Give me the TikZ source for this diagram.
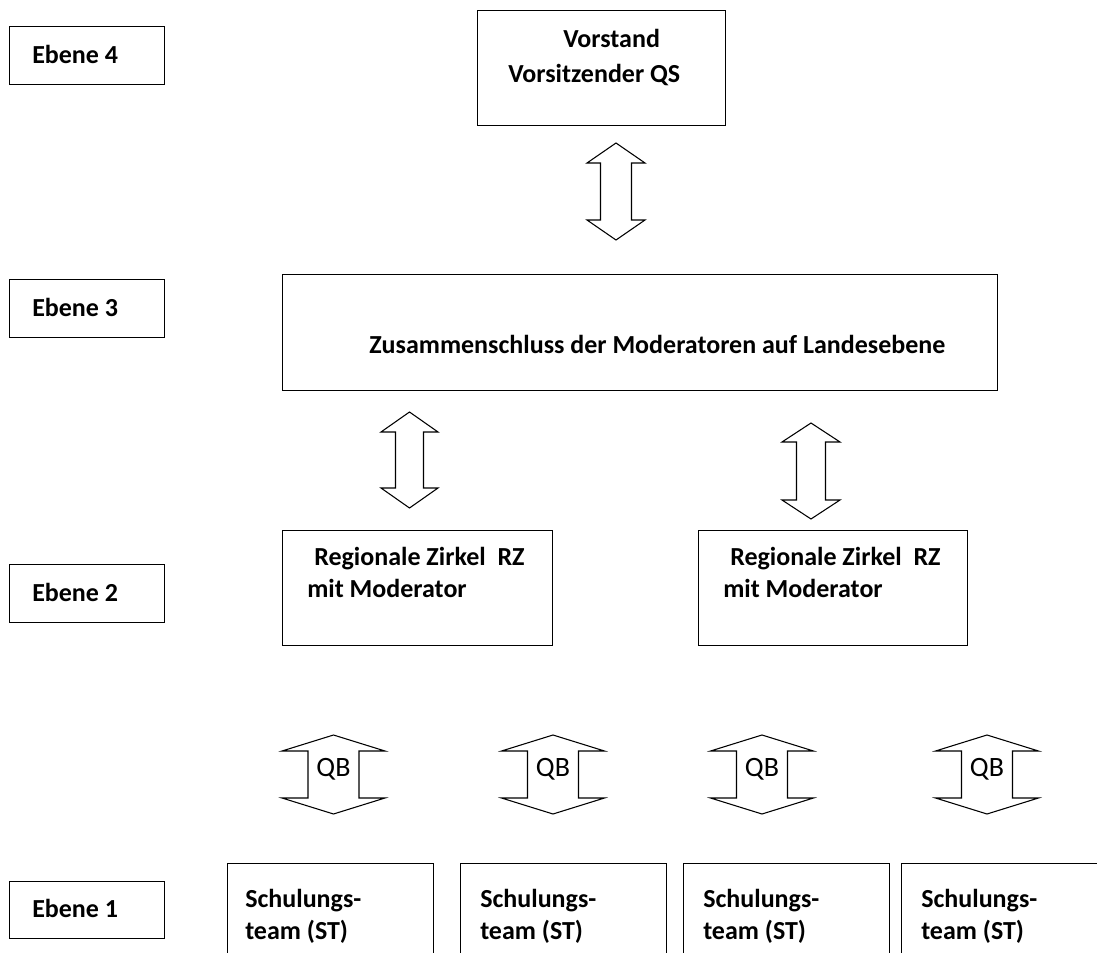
\documentclass[tikz,border=0pt]{standalone}
\usepackage{fontspec}
\setmainfont{Carlito}
\newcommand\bxnode[5]{\node[box, minimum width={(#4-#2)*0.75pt}, minimum height={(#5-#3)*0.75pt}] (#1) at (#2,#3) {};}
% name, cx, top, bottom, head half width, shaft half width, head length
\newcommand\udarrow[7]{%
  \draw[barrow] (#2,#3) -- ({#2+#5},{#3+#7}) -- ({#2+#6},{#3+#7}) -- ({#2+#6},{#4-#7})
    -- ({#2+#5},{#4-#7}) -- (#2,#4) -- ({#2-#5},{#4-#7}) -- ({#2-#6},{#4-#7})
    -- ({#2-#6},{#3+#7}) -- ({#2-#5},{#3+#7}) -- cycle;
  \coordinate (#1) at (#2,{(#3+#4)/2});}
\begin{document}
\begin{tikzpicture}[x=0.75pt,y=-0.75pt,
  box/.style={draw, line width=1pt, inner sep=0pt, anchor=north west},
  lbl/.style={font=\bfseries\fontsize{19.5}{23}\selectfont, inner sep=0pt, anchor=base west},
  qbtext/.style={font=\fontsize{21}{24}\selectfont, inner sep=0pt, anchor=base},
  barrow/.style={draw, line width=0.8pt, fill=white, line join=miter}]
\path[use as bounding box] (0,0) rectangle (1097,953);
\clip (0,0) rectangle (1097,953);

% level boxes
\bxnode{e4}{9}{26}{164}{84}
\bxnode{e3}{9}{279}{164}{337}
\bxnode{e2}{9}{564}{164}{622}
\bxnode{e1}{9}{881}{164}{938}
\node[lbl] (t4) at (32,63) {Ebene 4};
\node[lbl] (t3) at (32,316) {Ebene 3};
\node[lbl] (t2) at (32,601) {Ebene 2};
\node[lbl] (t1) at (32,917) {Ebene 1};

% Vorstand
\bxnode{vor}{477}{10}{725}{125}
\node[lbl] (vorA) at (563,47) {Vorstand};
\node[lbl] (vorB) at (508,82) {Vorsitzender QS};

% Zusammenschluss
\bxnode{zus}{282}{274}{997}{390}
\node[lbl] (zusT) at (369,353) {Zusammenschluss der Moderatoren auf Landesebene};

% Regionale Zirkel
\bxnode{rzl}{282}{530}{552}{645}
\bxnode{rzr}{698}{530}{967}{645}
\node[lbl] (rzlA) at (314,565) {Regionale Zirkel\ \ RZ};
\node[lbl] (rzlB) at (307,597) {mit Moderator};
\node[lbl] (rzrA) at (730,565) {Regionale Zirkel\ \ RZ};
\node[lbl] (rzrB) at (723,597) {mit Moderator};

% Schulungsteams
\bxnode{st1}{227}{863}{433}{990}
\bxnode{st2}{460}{863}{666}{990}
\bxnode{st3}{683}{863}{889}{990}
\bxnode{st4}{901}{863}{1107}{990}
\foreach \n/\xx in {1/245, 2/480, 3/703, 4/921} {
  \node[lbl] (st\n A) at (\xx,907) {Schulungs-};
  \node[lbl] (st\n B) at (\xx,939) {team (ST)};
}

% block arrows
\udarrow{a1}{616}{143}{240}{29}{15.5}{20}
\udarrow{a2}{409.5}{412}{508}{28.5}{14}{20}
\udarrow{a3}{811}{423}{519}{29}{14.5}{19}
\foreach \n/\cx in {1/333.5, 2/553, 3/762, 4/987} {
  \udarrow{qb\n}{\cx}{735}{814}{51.5}{25.5}{16}
  \node[qbtext] (qbt\n) at (\cx,776) {QB};
}
\end{tikzpicture}
\end{document}
